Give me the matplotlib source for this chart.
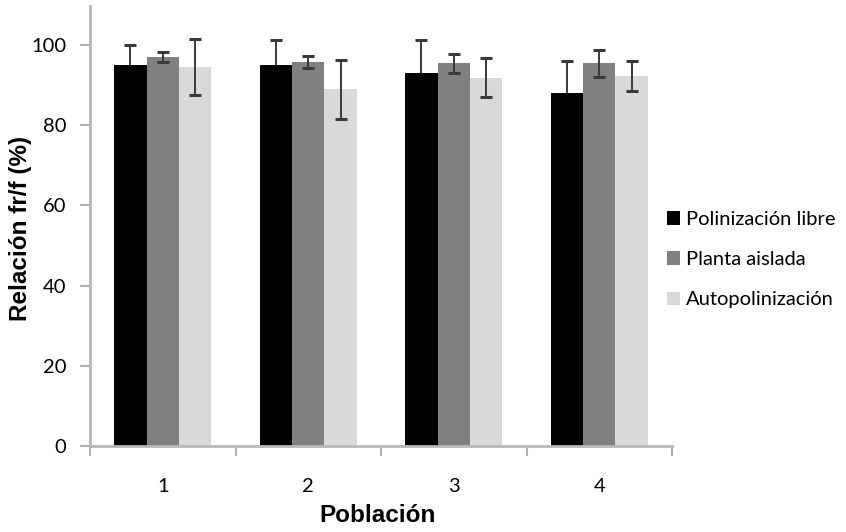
import matplotlib
matplotlib.use("Agg")
import matplotlib.pyplot as plt
import numpy as np

categories = ["1", "2", "3", "4"]
series_names = ["Polinización libre", "Planta aislada", "Autopolinización"]
libre = [95.0, 95.0, 92.9, 88.1]
libre_err = [5.1, 6.3, 8.3, 8.0]
aislada = [97.0, 95.8, 95.4, 95.4]
aislada_err = [1.3, 1.5, 2.3, 3.4]
auto = [94.5, 88.9, 91.8, 92.3]
auto_err = [6.9, 7.3, 4.9, 3.8]
yticks = [0, 20, 40, 60, 80, 100]

colors = ["#000000", "#808080", "#d9d9d9"]
values = [libre, aislada, auto]
errors = [libre_err, aislada_err, auto_err]

fig = plt.figure(figsize=(8.46, 5.32), dpi=100)
W, H = 846, 532
ax = fig.add_axes([90 / W, 1 - 446 / H, (672 - 90) / W, (446 - 6) / H])

x = np.arange(len(categories))
bw = 0.222
for i, (vals, errs, c, name) in enumerate(zip(values, errors, colors, series_names)):
    ax.bar(x + (i - 1) * bw, vals, width=bw, color=c, label=name, zorder=2)
    ax.errorbar(x + (i - 1) * bw, vals, yerr=errs, fmt="none", ecolor="#3a3a3a",
                elinewidth=1.4, capsize=4.5, capthick=2.2, zorder=1 if i == 0 else 3)

ax.set_xlim(-0.5, len(categories) - 0.5)
ax.set_ylim(0, 109.7)
ax.set_yticks(yticks)
ax.set_yticklabels([str(t) for t in yticks], fontsize=14.5, family="Lato")
ax.set_xticks(x)
ax.set_xticklabels(categories, fontsize=14.5, family="Lato")
ax.set_xticks(np.arange(len(categories) + 1) - 0.5, minor=True)
ax.tick_params(axis="x", which="major", length=0, pad=23)
ax.tick_params(axis="x", which="minor", length=7, width=1.5, color="#b0b0b0", direction="out")
ax.tick_params(axis="y", length=7, width=1.5, color="#b0b0b0", direction="out", pad=10)

for s in ["top", "right"]:
    ax.spines[s].set_visible(False)
for s in ["left", "bottom"]:
    ax.spines[s].set_color("#b8b8b8")
    ax.spines[s].set_linewidth(2)

fig.text(20 / W, 1 - 228 / H, "Relación fr/f (%)", rotation=90, ha="center", va="center",
         fontsize=17.5, fontweight="bold", family="Liberation Sans")
fig.text(378 / W, 1 - 516 / H, "Población", ha="center", va="center",
         fontsize=17.5, fontweight="bold", family="Liberation Sans")

leg = fig.legend(loc="upper left", bbox_to_anchor=(649 / W, 1 - 193 / H), frameon=False,
                 prop={"family": "Lato", "size": 14.5}, handlelength=0.65, handleheight=0.65,
                 handletextpad=0.3, labelspacing=1.15)

fig.savefig("out.png", dpi=100)
